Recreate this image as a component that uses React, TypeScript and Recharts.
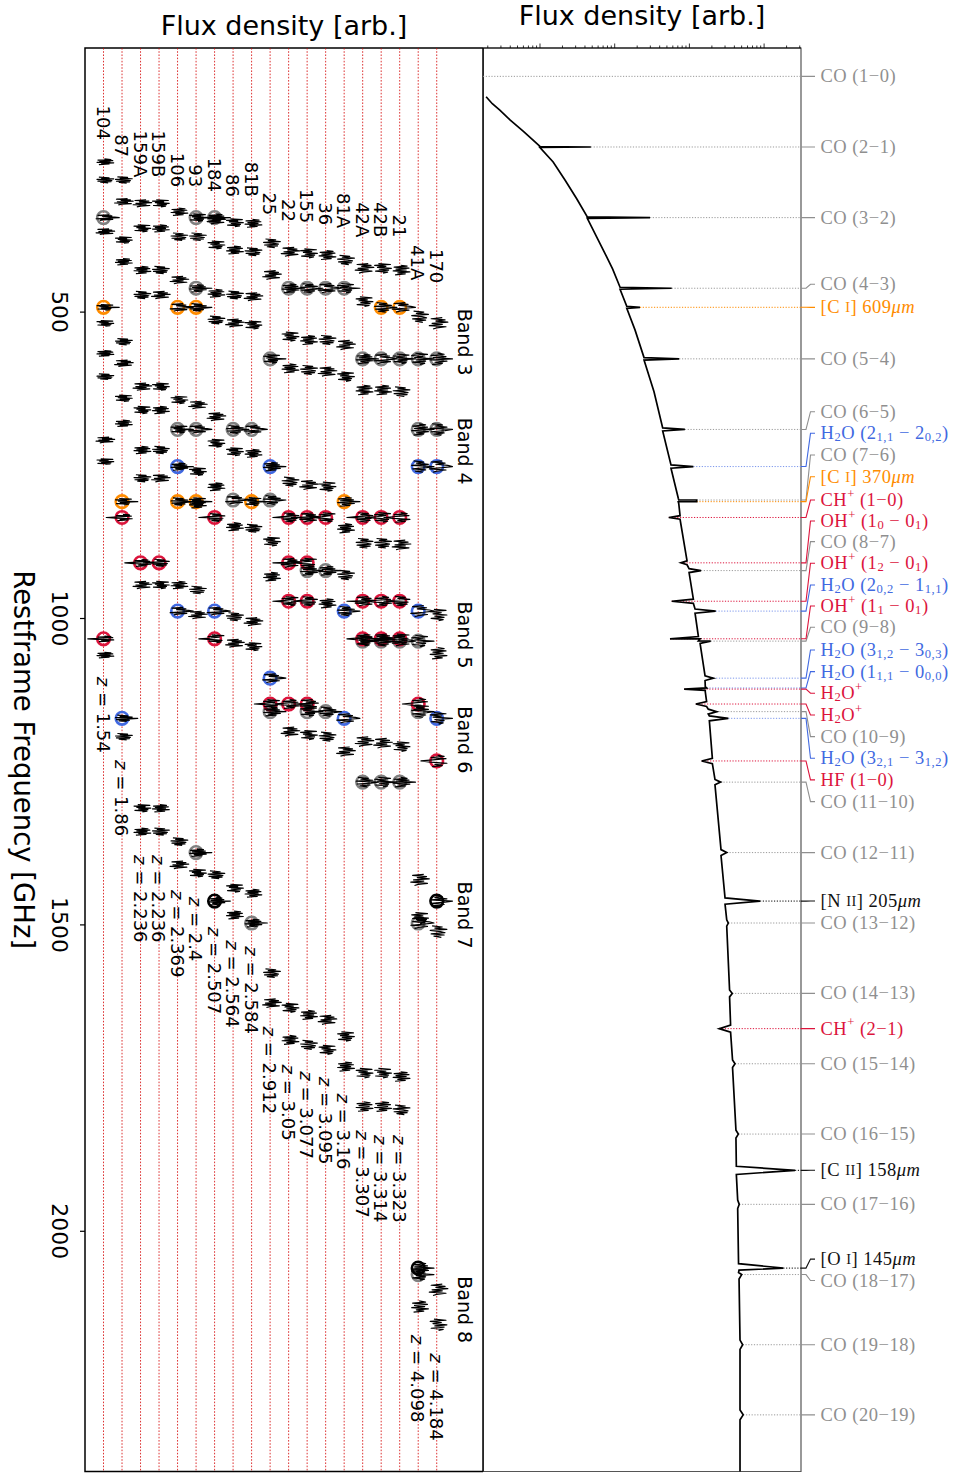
import React from "react";
import { ScatterChart, Scatter, XAxis, YAxis, ReferenceArea, ReferenceLine } from "recharts";

// ---------- shared axes ----------
const FREQ_DOMAIN: [number, number] = [69, 2392];
const FREQ_TICKS = [500, 1000, 1500, 2000];
const COL_DOMAIN: [number, number] = [-1, 20.5];
const FLUX_DOMAIN: [number, number] = [0.1726, 3119];
const FLUX_TICKS = [
  0.2, 0.3, 0.4, 0.5, 0.6, 0.7, 0.8, 0.9, 1, 2, 3, 4, 5, 6, 7, 8, 9, 10, 20, 30, 40, 50, 60, 70, 80, 90,
  100, 200, 300, 400, 500, 600, 700, 800, 900, 1000, 2000, 3000,
];

const SANS = "'DejaVu Sans', sans-serif";
const SERIF = "'Liberation Serif', 'DejaVu Serif', serif";

// ---------- left panel: observed sources ----------
const SOURCE_NAMES = ["104", "87", "159A", "159B", "106", "93", "184", "86", "81B", "25", "22", "155", "36", "81A", "42A", "42B", "21", "41A", "170"];
const SOURCE_Z = [1.54, 1.86, 2.236, 2.236, 2.369, 2.4, 2.507, 2.564, 2.584, 2.912, 3.05, 3.077, 3.095, 3.16, 3.307, 3.314, 3.323, 4.098, 4.184];
// rest frequency (GHz) where the name ends / where the redshift note starts
const SOURCE_TAG_AT = [219, 247, 280, 280, 296, 296, 304, 312, 312, 342, 353, 355, 358, 363, 378, 378, 378, 448, 453];
const SOURCE_Z_AT = [1095, 1231, 1386, 1386, 1443, 1454, 1503, 1525, 1535, 1666, 1728, 1739, 1748, 1775, 1835, 1843, 1843, 2169, 2199];

// rest-frame centres (GHz) of the spectral windows without a line
const SOURCE_WINDOWS: number[][] = [
  [254.6, 284.4, 368.8, 518.3, 567.2, 605.4, 708.7, 744.1, 1059.6],
  [284.4, 319.9, 382.4, 417.8, 548.3, 583.5, 640.6, 681.4, 1192.8],
  [322.5, 363.3, 431.3, 472.1, 621.7, 659.7, 725.0, 771.2, 945.3, 1309.6, 1347.8],
  [322.5, 363.3, 431.3, 472.1, 621.7, 659.7, 725.0, 771.2, 945.3, 1309.6, 1347.8],
  [336.2, 377.0, 447.6, 643.4, 945.3, 1364.1, 1402.1],
  [377.0, 651.6, 760.4, 813.5, 953.5, 994.3, 1415.6],
  [349.7, 390.5, 469.3, 512.9, 670.7, 714.1, 784.9, 1418.3],
  [354.1, 398.7, 472.1, 517.8, 727.8, 850.1, 997.0, 1040.4, 1440.1, 1483.7],
  [355.1, 401.5, 474.9, 521.1, 730.4, 852.8, 1005.1, 1046.0, 1448.3],
  [387.7, 439.5, 874.6, 931.7, 1578.8, 1627.8],
  [401.5, 540.1, 591.7, 776.7, 1184.6, 1635.4, 1687.6],
  [404.1, 545.5, 594.5, 782.1, 1190.2, 1646.8, 1695.8],
  [406.8, 545.5, 597.2, 784.9, 975.2, 1192.8, 1655.0, 1703.9],
  [415.0, 553.7, 605.4, 852.8, 929.0, 1217.2, 1682.2, 1731.2],
  [428.5, 483.0, 627.1, 877.2, 1200.9, 1741.9, 1796.4],
  [428.5, 627.1, 877.2, 1203.5, 1741.9, 1796.4],
  [431.3, 629.9, 880.0, 1209.1, 1747.4, 1801.8],
  [507.5, 1426.6, 1489.0, 2122.8],
  [518.3, 994.3, 1056.7, 1510.9, 2095.5, 2152.6],
];

// detected lines per source (keys into the line table)
const SOURCE_LINES: string[][] = [
  ["CO32", "CI609", "OHp11"],
  ["CI370", "CHp10", "H2O321"],
  ["OHp10"],
  ["OHp10"],
  ["CI609", "CO65", "H2O211", "CI370", "H2O202"],
  ["CO32", "CO43", "CI609", "CO65", "CI370", "CO1211"],
  ["CO32", "CHp10", "H2O202", "OHp11", "NII"],
  ["CO65", "CO76"],
  ["CO65", "CI370", "CO1312"],
  ["CO54", "H2O211", "CO76", "H2O312", "H2Op1139", "CO109"],
  ["CO43", "CHp10", "OHp10", "OHp12", "H2Op1139"],
  ["CO43", "CHp10", "OHp10", "CO87", "OHp12", "H2Op1139", "CO109"],
  ["CO43", "CHp10", "CO87", "CO109"],
  ["CO43", "CI370", "H2O202", "H2O321"],
  ["CO54", "CHp10", "OHp12", "CO98", "OHp11", "CO1110"],
  ["CI609", "CO54", "CHp10", "OHp12", "CO98", "OHp11", "CO1110"],
  ["CI609", "CO54", "CHp10", "OHp12", "CO98", "OHp11", "CO1110"],
  ["CO54", "CO65", "H2O211", "H2O202", "CO98", "H2Op1139", "CO109", "CO1312", "CO1817", "OI"],
  ["CO54", "CO65", "H2O211", "H2O321", "HF", "NII"],
];

const BAND_NAMES = ["Band 3", "Band 4", "Band 5", "Band 6", "Band 7", "Band 8"];
const BAND_AT = [549, 727, 1027, 1198, 1484, 2128];

// channel fluxes of a window, in column widths (hand traced shapes, reused)
const NOISE: number[][] = [
  [0.05, 0.4, -0.3, 0.5, -0.2, 0.35, -0.35, 0.55, -0.1, 0.3, -0.25],
  [-0.25, 0.3, -0.1, 0.55, -0.35, 0.2, 0.45, -0.3, 0.4, -0.15, 0.25],
  [0.3, -0.3, 0.45, -0.05, 0.6, -0.25, 0.3, -0.4, 0.5, 0.0, -0.2],
  [-0.15, 0.5, -0.35, 0.25, -0.2, 0.55, -0.1, 0.4, -0.3, 0.35, 0.1],
];

// ---------- right panel: line catalogue and template spectrum ----------
const LINE_KEYS = [
  "CO10", "CO21", "CO32", "CO43", "CI609", "CO54", "CO65", "H2O211", "CO76", "CI370", "CHp10", "OHp10", "CO87",
  "OHp12", "H2O202", "OHp11", "CO98", "H2O312", "H2O111", "H2Op1115", "H2Op1139", "CO109", "H2O321", "HF",
  "CO1110", "CO1211", "NII", "CO1312", "CO1413", "CHp21", "CO1514", "CO1615", "CII", "CO1716", "OI", "CO1817",
  "CO1918", "CO2019",
];
const LINE_TEXT = [
  "CO (1−0)", "CO (2−1)", "CO (3−2)", "CO (4−3)", "[C %{I}] 609*{μm}", "CO (5−4)", "CO (6−5)",
  "H_2O (2_{1,1} − 2_{0,2})", "CO (7−6)", "[C %{I}] 370*{μm}", "CH^+ (1−0)", "OH^+ (1_0 − 0_1)", "CO (8−7)",
  "OH^+ (1_2 − 0_1)", "H_2O (2_{0,2} − 1_{1,1})", "OH^+ (1_1 − 0_1)", "CO (9−8)", "H_2O (3_{1,2} − 3_{0,3})",
  "H_2O (1_{1,1} − 0_{0,0})", "H_2O^+", "H_2O^+", "CO (10−9)", "H_2O (3_{2,1} − 3_{1,2})", "HF (1−0)",
  "CO (11−10)", "CO (12−11)", "[N %{II}] 205*{μm}", "CO (13−12)", "CO (14−13)", "CH^+ (2−1)", "CO (15−14)",
  "CO (16−15)", "[C %{II}] 158*{μm}", "CO (17−16)", "[O %{I}] 145*{μm}", "CO (18−17)", "CO (19−18)", "CO (20−19)",
];
const LINE_FREQ = [
  115.271, 230.538, 345.796, 461.041, 492.161, 576.268, 691.473, 752.033, 806.652, 809.342, 835.138, 909.159,
  921.8, 971.805, 987.927, 1033.119, 1036.912, 1097.365, 1113.343, 1115.204, 1139.56, 1151.985, 1162.912,
  1232.476, 1267.014, 1381.995, 1461.131, 1496.923, 1611.794, 1669.28, 1726.603, 1841.346, 1900.537, 1956.018,
  2060.069, 2070.616, 2185.13, 2299.57,
];
const LINE_BASE: (number | null)[] = [
  null, 1.0, 4.3, 11.8, 14.5, 24.7, 43.9, 56.7, 71, 72, 75, 93, 99, 113, 119, 132, 139, 162, 163, 163, 170, 179,
  185, 203, 220, 265, 300, 316, 345, 356, 378, 420, 425, 443, 455, 462, 476, 476,
];
const LINE_PEAK: (number | null)[] = [
  null, 4.8, 29.7, 58, 21.8, 73, 87, 113, 125, 125, 53, 77, 143, 58, 225, 55, 193, 209, 170, 85, 122, 232, 332,
  146, 262, 316, 881, 332, 375, 251, 408, 452, 2594, 465, 1807, 501, 517, 525,
];
const LINE_LABEL_AT = [
  115.3, 230.5, 345.8, 454.6, 492.2, 576.3, 662.5, 697.8, 733.1, 768.6, 806.6, 840.8, 874.6, 909.9, 945.3, 979.5,
  1014.3, 1051.3, 1086.7, 1122.0, 1157.4, 1192.8, 1228.0, 1263.4, 1298.8, 1382.0, 1461.1, 1496.9, 1611.8, 1669.3,
  1726.6, 1841.3, 1900.5, 1956.0, 2045.4, 2080.4, 2185.1, 2299.6,
];
const LINE_KIND = [
  "co", "co", "co", "co", "ci", "co", "co", "h2o", "co", "ci", "ion", "ion", "co", "ion", "h2o", "ion", "co",
  "h2o", "h2o", "ion", "ion", "co", "h2o", "ion", "co", "co", "fs", "co", "co", "ion", "co", "co", "fs", "co",
  "fs", "co", "co", "co",
];

// dust continuum of the template between the lines
const CONT_FREQ = [148.6, 160, 170.4, 186.7, 205, 255, 284.5, 315, 404, 430, 529, 630, 2392];
const CONT_FLUX = [0.19, 0.23, 0.29, 0.4, 0.6, 1.5, 2.16, 3.1, 7.4, 9.4, 18.7, 33.6, 476];

const KINDS = ["co", "ci", "h2o", "ion", "fs"];
const KIND_COLOR: Record<string, string> = { co: "#808080", ci: "#ff8c00", h2o: "#4169e1", ion: "#dc143c", fs: "#000000" };
const KIND_TEXT: Record<string, string> = { co: "#8f8f8f", ci: "#ff8c00", h2o: "#4169e1", ion: "#dc143c", fs: "#111111" };
const KIND_DOTS: Record<string, string> = { co: "#9a9a9a", ci: "#ff8c00", h2o: "#7b96ec", ion: "#dc143c", fs: "#000000" };

const SPW_HALF_OBS = 1.8; // GHz, half a sideband in the observed frame
const SPIKE = 0.85; // line peak in column widths
const LINE_WIDTH_FRAC = 0.0035;
const BAND_X = 19.55;
const NO_SHAPE = () => <g />;

const lineIndex = (key: string) => LINE_KEYS.indexOf(key);

function windowPoints(col: number, f0: number, z: number, k: number, spike: number) {
  const tpl = NOISE[k % NOISE.length];
  const hw = SPW_HALF_OBS * (1 + z);
  const mid = (tpl.length - 1) / 2;
  return tpl.map((dx, j) => ({
    x: col + (spike !== 0 && j === mid ? spike : dx),
    f: f0 - hw + (2 * hw * j) / (tpl.length - 1),
  }));
}

function columnData(col: number) {
  const z = SOURCE_Z[col];
  const plain = SOURCE_WINDOWS[col].flatMap((f, k) => windowPoints(col, f, z, k + col, 0));
  const lines = SOURCE_LINES[col].flatMap((key, k) => {
    const i = lineIndex(key);
    const dir = LINE_KIND[i] === "ion" ? -SPIKE : SPIKE;
    return windowPoints(col, LINE_FREQ[i], z, k + col + 2, dir);
  });
  return [...plain, ...lines];
}

function polylines(size: number, stroke: string, width: number, dash?: string) {
  return (p: any) => {
    const pts = p.points || [];
    const out: React.ReactElement[] = [];
    for (let i = 0; i + size <= pts.length; i += size) {
      const d = pts
        .slice(i, i + size)
        .map((q: any, j: number) => `${j ? "L" : "M"}${q.x},${q.y}`)
        .join("");
      out.push(
        <path key={i} d={d} fill="none" stroke={stroke} strokeWidth={width} strokeDasharray={dash} strokeLinejoin="round" />
      );
    }
    return <g>{out}</g>;
  };
}

// _x / _{..} subscript, ^x superscript, %{..} small capitals, *{..} italic
function richText(src: string, size: number) {
  const parts: { t: string; m: string }[] = [];
  let buf = "";
  let i = 0;
  while (i < src.length) {
    const c = src[i];
    if (c === "_" || c === "^" || c === "%" || c === "*") {
      if (buf) parts.push({ t: buf, m: "n" });
      buf = "";
      let body: string;
      if (src[i + 1] === "{") {
        const j = src.indexOf("}", i + 2);
        body = src.slice(i + 2, j);
        i = j + 1;
      } else {
        body = src[i + 1];
        i += 2;
      }
      parts.push({ t: body, m: c });
    } else {
      buf += c;
      i++;
    }
  }
  if (buf) parts.push({ t: buf, m: "n" });
  let off = 0;
  return parts.map((p, k) => {
    const target = p.m === "_" ? 0.22 * size : p.m === "^" ? -0.34 * size : 0;
    const dy = target - off;
    off = target;
    const fs = p.m === "_" || p.m === "^" ? 0.68 * size : p.m === "%" ? 0.78 * size : size;
    return (
      <tspan key={k} dy={dy} fontSize={fs} fontStyle={p.m === "*" ? "italic" : undefined}>
        {p.t}
      </tspan>
    );
  });
}

function TopTitle(props: any) {
  const vb = props.viewBox || { x: 0, width: 0 };
  return (
    <text x={vb.x + vb.width / 2} y={props.baseline} textAnchor="middle" fontSize={27} fontFamily={SANS} fill="#000">
      Flux density [arb.]
    </text>
  );
}

function SideTitle(props: any) {
  const vb = props.viewBox || { x: 0, y: 0, height: 0 };
  const cx = vb.x + 24;
  const cy = vb.y + vb.height / 2;
  return (
    <text x={cx} y={cy} transform={`rotate(90, ${cx}, ${cy})`} textAnchor="middle" dominantBaseline="central" fontSize={27.5} fontFamily={SANS} fill="#000">
      Restframe Frequency [GHz]
    </text>
  );
}

const renderFreqTick = (p: any) => (
  <text x={p.x} y={p.y} transform={`rotate(90, ${p.x}, ${p.y})`} textAnchor="middle" dominantBaseline="central" fontSize={22} fontFamily={SANS} fill="#000">
    {p.payload.value}
  </text>
);

const renderLogTick = (p: any) => {
  const lg = Math.log10(p.payload.value);
  const major = Math.abs(lg - Math.round(lg)) < 1e-6;
  return <line x1={p.x} x2={p.x} y1={p.y} y2={p.y - (major ? 4.5 : 2.5)} stroke="#000" strokeWidth={0.8} />;
};

function rotatedText(anchor: "start" | "middle" | "end", size: number) {
  return (p: any) => (
    <text x={p.cx} y={p.cy} transform={`rotate(90, ${p.cx}, ${p.cy})`} textAnchor={anchor} dominantBaseline="central" fontSize={size} fontFamily={SANS} fill="#000">
      {richText(p.payload.text, size)}
    </text>
  );
}

function circleShape(color: string) {
  return (p: any) => <circle cx={p.cx} cy={p.cy} r={6.3} fill="none" stroke={color} strokeWidth={2.6} />;
}

function connectorLine(color: string) {
  return (p: any) => {
    const pts = p.points || [];
    const out: React.ReactElement[] = [];
    for (let i = 0; i + 1 < pts.length; i += 2) {
      const a = pts[i];
      const b = pts[i + 1];
      out.push(<path key={i} d={`M${a.x},${a.y}h5L${a.x + 9.5},${b.y}h4.5`} fill="none" stroke={color} strokeWidth={1.1} />);
    }
    return <g>{out}</g>;
  };
}

function labelShape(color: string) {
  return (p: any) =>
    p.payload.text ? (
      <text x={p.cx + 19.5} y={p.cy} dominantBaseline="central" fill={color} fontFamily={SERIF} fontSize={18.5} letterSpacing={0.5}>
        {richText(p.payload.text, 18.5)}
      </text>
    ) : (
      <g />
    );
}

function LeftPanel() {
  const guides = SOURCE_NAMES.flatMap((_, i) => [
    { x: i, f: FREQ_DOMAIN[0] },
    { x: i, f: FREQ_DOMAIN[1] },
  ]);
  const tags = SOURCE_NAMES.map((name, i) => ({ x: i, f: SOURCE_TAG_AT[i], text: name }));
  const zNotes = SOURCE_Z.map((z, i) => ({ x: i, f: SOURCE_Z_AT[i], text: `*{z} = ${z}` }));
  const bands = BAND_NAMES.map((name, i) => ({ x: BAND_X, f: BAND_AT[i], text: name }));
  const circles = (kind: string) =>
    SOURCE_LINES.flatMap((keys, col) =>
      keys.filter((k) => LINE_KIND[lineIndex(k)] === kind).map((k) => ({ x: col, f: LINE_FREQ[lineIndex(k)] }))
    );

  return (
    <ScatterChart width={483} height={1473} margin={{ top: 0, right: 0, bottom: 1.5, left: 0 }} style={{ position: "absolute", left: 0, top: 0 }}>
      <XAxis dataKey="x" type="number" domain={COL_DOMAIN} allowDataOverflow orientation="top" height={48} tick={false} tickLine={false} axisLine={false} label={<TopTitle baseline={34.5} />} />
      <YAxis
        dataKey="f"
        type="number"
        domain={FREQ_DOMAIN}
        reversed
        allowDataOverflow
        ticks={FREQ_TICKS}
        interval={0}
        width={85}
        tickSize={5}
        tickMargin={21}
        axisLine={false}
        tickLine={{ stroke: "#000", strokeWidth: 1.2 }}
        tick={renderFreqTick}
        label={<SideTitle />}
      />
      <Scatter data={guides} shape={NO_SHAPE} line={polylines(2, "#d40000", 0.8, "1.6 1.6")} isAnimationActive={false} />
      {KINDS.map((kind) => (
        <Scatter key={`c-${kind}`} data={circles(kind)} shape={circleShape(KIND_COLOR[kind])} isAnimationActive={false} />
      ))}
      {SOURCE_NAMES.map((name, col) => (
        <Scatter key={`s-${name}`} data={columnData(col)} shape={NO_SHAPE} line={polylines(NOISE[0].length, "#000", 1.2)} isAnimationActive={false} />
      ))}
      <Scatter data={tags} shape={rotatedText("end", 18)} isAnimationActive={false} />
      <Scatter data={zNotes} shape={rotatedText("start", 18)} isAnimationActive={false} />
      <Scatter data={bands} shape={rotatedText("middle", 19)} isAnimationActive={false} />
      <ReferenceArea x1={COL_DOMAIN[0]} x2={COL_DOMAIN[1]} y1={FREQ_DOMAIN[0]} y2={FREQ_DOMAIN[1]} fill="none" stroke="#000" strokeWidth={1.5} ifOverflow="visible" />
    </ScatterChart>
  );
}

function RightPanel() {
  const edge = FLUX_DOMAIN[1];
  const model = [
    ...CONT_FREQ.map((f, i) => ({ f, v: CONT_FLUX[i] })),
    ...LINE_FREQ.flatMap((f, i) => {
      const base = LINE_BASE[i];
      const peak = LINE_PEAK[i];
      if (base == null || peak == null) return [];
      return [
        { f: f * (1 - LINE_WIDTH_FRAC), v: base },
        { f, v: peak },
        { f: f * (1 + LINE_WIDTH_FRAC), v: base },
      ];
    }),
  ].sort((a, b) => a.f - b.f);

  const dotted = (kind: string) =>
    LINE_FREQ.flatMap((f, i) =>
      LINE_KIND[i] === kind
        ? [
            { v: LINE_PEAK[i] ?? FLUX_DOMAIN[0], f },
            { v: edge, f },
          ]
        : []
    );
  const tags = (kind: string) =>
    LINE_FREQ.flatMap((f, i) =>
      LINE_KIND[i] === kind
        ? [
            { v: edge, f, text: "" },
            { v: edge, f: LINE_LABEL_AT[i], text: LINE_TEXT[i] },
          ]
        : []
    );

  return (
    <ScatterChart width={477} height={1473} margin={{ top: 0, right: 159, bottom: 1.5, left: 0 }} style={{ position: "absolute", left: 483, top: 0 }}>
      <XAxis
        dataKey="v"
        type="number"
        scale="log"
        domain={FLUX_DOMAIN}
        orientation="top"
        height={48}
        ticks={FLUX_TICKS}
        interval={0}
        tickSize={0}
        tickMargin={0}
        tickLine={false}
        axisLine={{ stroke: "#000", strokeWidth: 1.2 }}
        tick={renderLogTick}
        label={<TopTitle baseline={25} />}
      />
      <YAxis dataKey="f" type="number" domain={FREQ_DOMAIN} reversed hide />
      {KINDS.map((kind) => (
        <Scatter key={`d-${kind}`} data={dotted(kind)} shape={NO_SHAPE} line={polylines(2, KIND_DOTS[kind], 1, "1.2 1.6")} isAnimationActive={false} />
      ))}
      <Scatter data={model} shape={NO_SHAPE} line={{ stroke: "#000", strokeWidth: 1.7 }} isAnimationActive={false} />
      {KINDS.map((kind) => (
        <Scatter key={`t-${kind}`} data={tags(kind)} shape={labelShape(KIND_TEXT[kind])} line={connectorLine(KIND_TEXT[kind])} isAnimationActive={false} />
      ))}
      <ReferenceArea x1={FLUX_DOMAIN[0]} x2={edge} y1={FREQ_DOMAIN[0]} y2={FREQ_DOMAIN[1]} fill="none" stroke="#555" strokeWidth={1.2} ifOverflow="visible" />
      <ReferenceLine x={FLUX_DOMAIN[0]} stroke="#000" strokeWidth={1.5} ifOverflow="visible" />
    </ScatterChart>
  );
}

export default function App() {
  return (
    <div style={{ position: "absolute", left: 0, top: 0, width: 960, height: 1473, background: "#fff", fontFamily: SANS }}>
      <LeftPanel />
      <RightPanel />
    </div>
  );
}
